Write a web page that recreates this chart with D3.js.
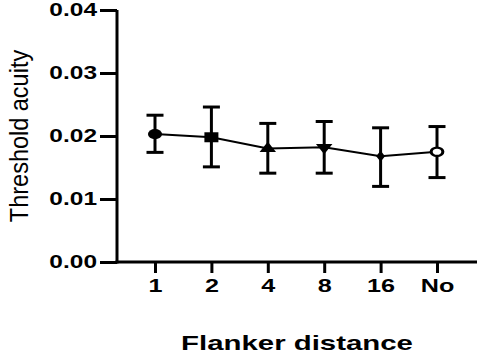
<!DOCTYPE html>
<html>
<head>
<meta charset="utf-8">
<script src="https://cdn.jsdelivr.net/npm/d3@7"></script>
<style>
  body { margin: 0; background: #fff; }
  svg { display: block; }
  text { font-family: "Liberation Sans", Arial, sans-serif; fill: #000; }
</style>
</head>
<body>
<div class="chart"></div>
<script>
// values
const categories = ['1', '2', '4', '8', '16', 'No'];
const means = [0.0203, 0.0198, 0.0180, 0.0182, 0.0168, 0.0175];
const upper = [0.0233, 0.0246, 0.0220, 0.0223, 0.0213, 0.0215];
const lower = [0.0174, 0.0151, 0.0141, 0.0141, 0.0120, 0.0134];
const yTicks = [0, 0.01, 0.02, 0.03, 0.04];
const markers = ['circle', 'square', 'triangle', 'triangleDown', 'diamond', 'openCircle'];

const stretch = 1.4; // the source picture is widened horizontally

const svg = d3.select('.chart').append('svg')
  .attr('width', 484).attr('height', 359);

const x = d3.scalePoint().domain(categories).range([155, 437]);
const y = d3.scaleLinear().domain([0, 0.04]).range([262, 10]);

// y axis
const yAxis = svg.append('g')
  .attr('transform', 'translate(117,0)')
  .call(d3.axisLeft(y).tickValues(yTicks).tickFormat(d3.format('.2f')).tickSize(17).tickPadding(3));
yAxis.select('.domain').attr('d', 'M0,' + y(0.04) + 'V' + (y(0) + 1.5)).attr('stroke-width', 3);
yAxis.selectAll('.tick line').attr('stroke-width', 3);
yAxis.selectAll('.tick text')
  .attr('x', -20 / stretch)
  .attr('transform', 'scale(' + stretch + ',1)')
  .attr('font-size', 17.5).attr('font-weight', 'bold');

// x axis
const xAxis = svg.append('g')
  .attr('transform', 'translate(0,262)')
  .call(d3.axisBottom(x).tickSize(11).tickPadding(6));
xAxis.select('.domain').attr('d', 'M115.5,0H477').attr('stroke-width', 3);
xAxis.selectAll('.tick line').attr('stroke-width', 3);
xAxis.selectAll('.tick text')
  .attr('transform', 'scale(' + stretch + ',1)')
  .attr('font-size', 18).attr('font-weight', 'bold');

// axis titles
svg.append('text')
  .attr('transform', 'translate(297,350) scale(' + stretch + ',1)')
  .attr('text-anchor', 'middle')
  .attr('font-size', 21).attr('font-weight', 'bold')
  .text('Flanker distance');

svg.append('text')
  .attr('transform', 'translate(28,136) rotate(-90) scale(1,1.1)')
  .attr('text-anchor', 'middle')
  .attr('font-size', 23.5)
  .text('Threshold acuity');

const data = categories.map((c, i) => ({ c: c, m: means[i], hi: upper[i], lo: lower[i], mk: markers[i] }));

// error bars
const err = svg.append('g').attr('stroke', '#000').attr('stroke-width', 3);
data.forEach(d => {
  err.append('line').attr('x1', x(d.c)).attr('x2', x(d.c)).attr('y1', y(d.hi)).attr('y2', y(d.lo));
  err.append('line').attr('x1', x(d.c) - 8.5).attr('x2', x(d.c) + 8.5).attr('y1', y(d.hi)).attr('y2', y(d.hi));
  err.append('line').attr('x1', x(d.c) - 8.5).attr('x2', x(d.c) + 8.5).attr('y1', y(d.lo)).attr('y2', y(d.lo));
});

// connecting line
svg.append('path')
  .datum(data)
  .attr('fill', 'none').attr('stroke', '#000').attr('stroke-width', 2)
  .attr('d', d3.line().x(d => x(d.c)).y(d => y(d.m)));

// markers
const symbolFor = {
  circle: d3.symbol().type(d3.symbolCircle).size(80),
  square: d3.symbol().type(d3.symbolSquare).size(100),
  triangle: d3.symbol().type(d3.symbolTriangle).size(60),
  triangleDown: d3.symbol().type(d3.symbolTriangle).size(60),
  diamond: d3.symbol().type(d3.symbolDiamond).size(35),
  openCircle: d3.symbol().type(d3.symbolCircle).size(55)
};

svg.append('g').selectAll('path')
  .data(data)
  .enter().append('path')
  .attr('d', d => symbolFor[d.mk]())
  .attr('transform', d => 'translate(' + x(d.c) + ',' + y(d.m) + ') scale(' + stretch + ',1)' + (d.mk === 'triangleDown' ? ' rotate(180)' : ''))
  .attr('fill', d => d.mk === 'openCircle' ? '#fff' : '#000')
  .attr('stroke', d => d.mk === 'openCircle' ? '#000' : 'none')
  .attr('stroke-width', 2.2);
</script>
</body>
</html>
